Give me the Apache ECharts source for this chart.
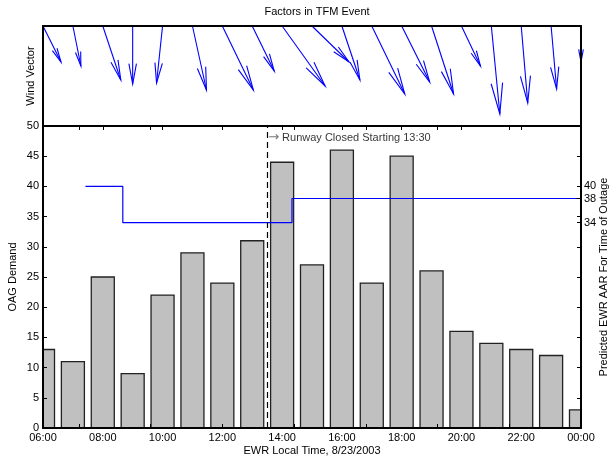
<!DOCTYPE html>
<html>
<head>
<meta charset="utf-8">
<script src="https://cdn.jsdelivr.net/npm/echarts@6/dist/echarts.min.js"></script>
<style>
html,body{margin:0;padding:0;background:#fff;}
#chart{width:610px;height:461px;}
</style>
</head>
<body>
<div id="chart"></div>
<script>
// ---- data ----
const hours = [6,7,8,9,10,11,12,13,14,15,16,17,18,19,20,21,22,23,24];
const demand = [13,11,25,9,22,29,24,31,44,27,46,24,45,26,16,14,13,12,3];
const windU = [18,8,18,0,-6,14,31,22,43,37,18,33,28,22,19,8.5,6.5,5.5,0];
const windV = [36,40,54,58,57,64,64,45,60,36,54,68,56,68,40,88,77,63,36];
const aarTimes = [7.42, 8.67, 14.33, 24];
const aarValues = [40, 34, 38, 38];
const closureHour = 13.5;
const closureText = 'Runway Closed Starting 13:30';
const xTickLabels = ['06:00','08:00','10:00','12:00','14:00','16:00','18:00','20:00','22:00','00:00'];
const xLabelHours = [6,8,10,12,14,16,18,20,22,24];
const dayTenthTicks = [7.2,9.6,12,14.4,16.8,19.2,21.6,24];
const demandTicks = [0,5,10,15,20,25,30,35,40,45,50];
const aarTickLabels = [34,38,40];

// ---- chart ----
const FONT = 'Liberation Sans, Arial, Helvetica, sans-serif';
const chart = echarts.init(document.getElementById('chart'), null, {renderer:'canvas'});
const axisLineStyle = {color:'#000', width:2};
const txt = {color:'#000', fontFamily:FONT, fontSize:11};
const nameTxt = {color:'#000', fontFamily:FONT, fontSize:11, align:'center', verticalAlign:'middle'};
const BAR_FRACTION = 0.77; // bar width as a fraction of one hour

const windData = hours.map((h,i)=>[h, windU[i], windV[i]]);
const barData = hours.map((h,i)=>[h, demand[i]]);
const aarData = aarTimes.map((t,i)=>[t, aarValues[i]]);

function renderArrow(params, api){
  const x = api.value(0), u = api.value(1), v = api.value(2);
  const p0 = api.coord([x, 0]);
  const k = api.size([0,1])[1];
  const ex = p0[0] + u*k, ey = p0[1] + v*k;
  const L = Math.hypot(ex-p0[0], ey-p0[1]);
  const dx = (ex-p0[0])/L, dy = (ey-p0[1])/L;
  const back = 0.35*L, off = 0.065*L;
  const bx = ex - dx*back, by = ey - dy*back;
  const style = {stroke:'#0000ff', lineWidth:1.1, fill:null};
  return {
    type:'group',
    children:[
      {type:'line', shape:{x1:p0[0],y1:p0[1],x2:ex,y2:ey}, style:style},
      {type:'polyline', shape:{points:[[bx - dy*off, by + dx*off],[ex,ey],[bx + dy*off, by - dx*off]]}, style:style}
    ]
  };
}

function renderBar(params, api){
  const x = api.value(0), val = api.value(1);
  const top = api.coord([x, val]);
  const base = api.coord([x, 0]);
  const w = api.size([BAR_FRACTION, 0])[0];
  const rect = echarts.graphic.clipRectByRect(
    {x: top[0]-w/2, y: top[1], width: w, height: base[1]-top[1]},
    {x: params.coordSys.x, y: params.coordSys.y, width: params.coordSys.width, height: params.coordSys.height}
  );
  if (!rect) return null;
  return {type:'rect', shape:rect, style:{fill:'#c0c0c0', stroke:'#222', lineWidth:1.3}};
}

const noLine = {show:true, onZero:false, lineStyle:axisLineStyle};

const option = {
  backgroundColor:'#fff',
  animation:false,
  title:{
    text:'Factors in TFM Event', left:312, top:1, textAlign:'center',
    textStyle:{color:'#000', fontFamily:FONT, fontSize:11, fontWeight:'normal'}
  },
  grid:[
    {left:43, right:29, top:26, height:100, show:false, containLabel:false, outerBoundsMode:'none'},
    {left:43, right:29, top:126, height:302, show:false, containLabel:false, outerBoundsMode:'none'}
  ],
  xAxis:[
    {gridIndex:0, type:'value', min:6, max:24, position:'bottom', z:5,
     axisLine:noLine, axisTick:{show:false}, axisLabel:{show:false}, splitLine:{show:false}},
    {gridIndex:0, type:'value', min:6, max:24, position:'top', z:5,
     axisLine:noLine, axisTick:{show:false}, axisLabel:{show:false}, splitLine:{show:false}},
    {gridIndex:1, type:'value', min:6, max:24, position:'bottom', z:5,
     name:'EWR Local Time, 8/23/2003', nameLocation:'middle', nameGap:23, nameMoveOverlap:false, nameTextStyle:nameTxt,
     axisLine:noLine,
     axisTick:{show:true, inside:true, length:4, customValues:dayTenthTicks, lineStyle:{color:'#000', width:1}},
     axisLabel:{show:true, customValues:xLabelHours, margin:4, ...txt,
       formatter:(v)=>xTickLabels[xLabelHours.indexOf(v)]},
     splitLine:{show:false}},
    {gridIndex:1, type:'value', min:6, max:24, position:'top', z:5,
     axisLine:noLine,
     axisTick:{show:true, inside:true, length:4, customValues:xLabelHours.concat(dayTenthTicks), lineStyle:{color:'#000', width:1}},
     axisLabel:{show:false}, splitLine:{show:false}}
  ],
  yAxis:[
    {gridIndex:0, type:'value', min:0, max:100, inverse:true, position:'left', z:5,
     name:'Wind Vector', nameLocation:'middle', nameGap:12, nameMoveOverlap:false, nameRotate:90, nameTextStyle:nameTxt,
     axisLine:noLine, axisTick:{show:false}, axisLabel:{show:false}, splitLine:{show:false}},
    {gridIndex:0, type:'value', min:0, max:100, inverse:true, position:'right', z:5,
     axisLine:noLine, axisTick:{show:false}, axisLabel:{show:false}, splitLine:{show:false}},
    {gridIndex:1, type:'value', min:0, max:50, interval:5, position:'left', z:5,
     name:'OAG Demand', nameLocation:'middle', nameGap:30, nameMoveOverlap:false, nameRotate:90, nameTextStyle:nameTxt,
     axisLine:noLine,
     axisTick:{show:true, inside:true, length:4, customValues:demandTicks, lineStyle:{color:'#000', width:1}},
     axisLabel:{show:true, margin:4, customValues:demandTicks, ...txt},
     splitLine:{show:false}},
    {gridIndex:1, type:'value', min:0, max:50, interval:5, position:'right', z:5,
     name:'Predicted EWR AAR For Time of Outage', nameLocation:'middle', nameGap:23, nameMoveOverlap:false, nameRotate:90, nameTextStyle:nameTxt,
     axisLine:noLine,
     axisTick:{show:true, inside:true, length:4, customValues:demandTicks.concat(aarTickLabels), lineStyle:{color:'#000', width:1}},
     axisLabel:{show:true, margin:3, customValues:aarTickLabels, ...txt, lineHeight:11},
     splitLine:{show:false}}
  ],
  series:[
    {type:'custom', name:'wind', xAxisIndex:0, yAxisIndex:0, renderItem:renderArrow, data:windData, clip:false, z:2},
    {type:'custom', name:'demand', xAxisIndex:2, yAxisIndex:2, renderItem:renderBar, data:barData, z:2},
    {type:'line', name:'aar', xAxisIndex:2, yAxisIndex:3, data:aarData, step:'end', showSymbol:false, symbol:'none',
     lineStyle:{color:'#0000ff', width:1.2}, z:3,
     markLine:{silent:true, symbol:['none','none'], label:{show:false},
       lineStyle:{color:'#000', type:[6,4], width:1.2},
       data:[{xAxis:closureHour}]}},
    {type:'scatter', name:'closure', xAxisIndex:2, yAxisIndex:2, data:[[closureHour, 48]], symbolSize:0,
     label:{show:true, position:'right', distance:1, formatter:'{a|→} '+closureText,
       rich:{a:{color:'#555', fontSize:13, fontFamily:'DejaVu Sans'}}, ...txt}, z:4}
  ]
};
chart.setOption(option);
</script>
</body>
</html>
